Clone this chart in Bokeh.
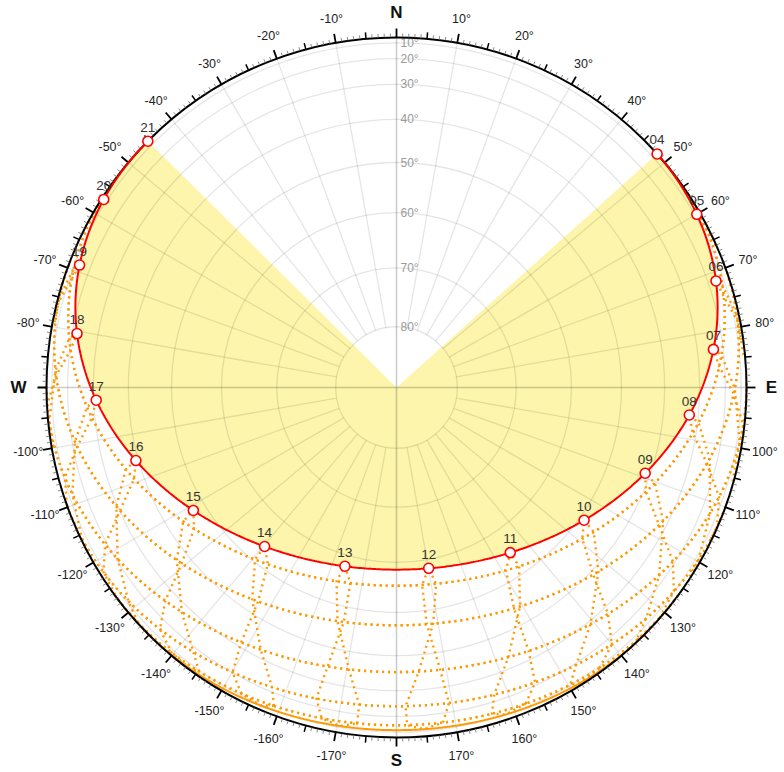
import numpy as np
from bokeh.plotting import figure
from bokeh.models import Range1d, ColumnDataSource
from bokeh.core.properties import value
from bokeh.embed import file_html
from bokeh.resources import INLINE

# ---- site and dates -------------------------------------------------------
LATITUDE = 54.8            # degrees north
CLOCK_OFFSET_MIN = -21.4   # local clock vs. mean solar time, minutes

MONTHS = ["Jan", "Feb", "Mar", "Apr", "May", "Jun",
          "Jul", "Aug", "Sep", "Oct", "Nov", "Dec"]
# solar declination and equation of time on the 21st of each month
DECLINATION = [-20.0, -10.8, 0.4, 12.0, 20.3, 23.44,
               20.3, 12.0, 0.4, -10.8, -20.0, -23.44]
EQ_OF_TIME = [-11.1, -13.7, -7.3, 1.1, 3.5, -1.6,
              -6.3, -3.2, 6.8, 15.3, 14.0, 1.9]

HIGHLIGHT = "Jun"          # red path with hourly markers
SOLID_ORANGE = "Dec"       # drawn solid, the rest dotted
HOURS = list(range(4, 22))
ANALEMMA_HOURS = list(range(0, 24))

ALT_RINGS = [10, 20, 30, 40, 50, 60, 70, 80]
AZ_LABELS = [a for a in range(-170, 180, 10) if a not in (0, 90, -90)]
CARDINALS = ["N", "E", "S", "W"]
CARDINAL_AZ = [0, 90, 180, -90]

# ---- geometry ---------------------------------------------------------------
R = 350.0
FONT = value("Liberation Sans")
ORANGE = "#ff9900"


def sun_position(clock_h, decl, eot):
    solar = np.asarray(clock_h, dtype=float) + (CLOCK_OFFSET_MIN + eot) / 60.0
    H = np.radians(15.0 * (solar - 12.0))
    lat = np.radians(LATITUDE)
    d = np.radians(decl)
    sin_alt = np.sin(lat) * np.sin(d) + np.cos(lat) * np.cos(d) * np.cos(H)
    alt = np.degrees(np.arcsin(np.clip(sin_alt, -1, 1)))
    east = -np.cos(d) * np.sin(H)
    north = np.sin(d) * np.cos(lat) - np.cos(d) * np.sin(lat) * np.cos(H)
    az = np.degrees(np.arctan2(east, north))
    return az, alt


def project(az, alt):
    r = R * np.cos(np.radians(alt))
    a = np.radians(az)
    return r * np.sin(a), r * np.cos(a)


def runs_above_horizon(x, y, alt):
    """Split a polyline into pieces above the horizon, cut at the horizon."""
    xs_out, ys_out = [], []
    cur_x, cur_y = [], []
    for i in range(len(alt)):
        if alt[i] >= 0:
            if not cur_x and i > 0 and alt[i - 1] < 0:
                f = alt[i - 1] / (alt[i - 1] - alt[i])
                cur_x.append(x[i - 1] + f * (x[i] - x[i - 1]))
                cur_y.append(y[i - 1] + f * (y[i] - y[i - 1]))
            cur_x.append(x[i])
            cur_y.append(y[i])
        else:
            if cur_x:
                f = alt[i - 1] / (alt[i - 1] - alt[i])
                cur_x.append(x[i - 1] + f * (x[i] - x[i - 1]))
                cur_y.append(y[i - 1] + f * (y[i] - y[i - 1]))
                xs_out.append(cur_x)
                ys_out.append(cur_y)
                cur_x, cur_y = [], []
    if len(cur_x) > 1:
        xs_out.append(cur_x)
        ys_out.append(cur_y)
    return xs_out, ys_out


p = figure(width=784, height=772, output_backend="svg", toolbar_location=None,
           x_range=Range1d(-396, 388), y_range=Range1d(-385, 387),
           x_axis_type=None, y_axis_type=None, min_border=0,
           outline_line_color=None, background_fill_color="white")
p.grid.visible = False

# ---- highlighted path and its area -----------------------------------------
hi = MONTHS.index(HIGHLIGHT)
t_hi = np.linspace(HOURS[0], HOURS[-1], 600)
az_hi, alt_hi = sun_position(t_hi, DECLINATION[hi], EQ_OF_TIME[hi])
hx, hy = project(az_hi, alt_hi)
p.patch(np.concatenate([[0.0], hx, [0.0]]), np.concatenate([[0.0], hy, [0.0]]),
        fill_color="#fcf4a6", fill_alpha=0.95, line_color=None)

# ---- polar grid ---------------------------------------------------------------
ring_r = [R * np.cos(np.radians(a)) for a in ALT_RINGS]
p.circle(x=[0] * len(ring_r), y=[0] * len(ring_r), radius=ring_r,
         fill_color=None, line_color="black", line_alpha=0.1, line_width=1.3)

gx, gy = [], []
for a in range(0, 360, 10):
    if a % 90 == 0:
        continue
    r0 = ring_r[-1]
    ang = np.radians(a)
    gx.append([r0 * np.sin(ang), R * np.sin(ang)])
    gy.append([r0 * np.cos(ang), R * np.cos(ang)])
p.multi_line(gx, gy, line_color="black", line_alpha=0.1, line_width=1.3)

cx, cy = [], []
for a in (0, 90, 180, 270):
    ang = np.radians(a)
    cx.append([0, R * np.sin(ang)])
    cy.append([0, R * np.cos(ang)])
p.multi_line(cx, cy, line_color="black", line_alpha=0.2, line_width=1.6)

p.text(x=[4] * len(ALT_RINGS), y=ring_r, text=[f"{a}°" for a in ALT_RINGS],
       text_font=FONT, text_font_size="12px", text_color="#9a9a9a",
       text_align="left", text_baseline="middle")

# ---- monthly paths ----------------------------------------------------------
t_day = np.linspace(0, 24, 1441)
dot_x, dot_y = [], []
for m, name in enumerate(MONTHS):
    if name == HIGHLIGHT:
        continue
    az, alt = sun_position(t_day, DECLINATION[m], EQ_OF_TIME[m])
    x, y = project(az, alt)
    xs, ys = runs_above_horizon(x, y, alt)
    if name == SOLID_ORANGE:
        p.multi_line(xs, ys, line_color=ORANGE, line_width=2)
    else:
        dot_x += xs
        dot_y += ys

# ---- hour analemmas (21st of each month, joined) ---------------------------
for h in ANALEMMA_HOURS:
    pts = [sun_position(h, DECLINATION[m], EQ_OF_TIME[m]) for m in range(12)]
    pts.append(pts[0])
    az = np.array([q[0] for q in pts], dtype=float)
    alt = np.array([q[1] for q in pts], dtype=float)
    x, y = project(az, alt)
    xs, ys = runs_above_horizon(x, y, alt)
    dot_x += xs
    dot_y += ys

p.multi_line(dot_x, dot_y, line_color=ORANGE, line_width=2.4, line_dash="2 4")

# ---- horizon circle and azimuth ticks --------------------------------------
p.circle(x=[0], y=[0], radius=[R], fill_color=None, line_color="black", line_width=2)

tick_sets = {"major": ([], [], "#000000", 1.8, 9),
             "mid": ([], [], "#000000", 1.5, 6.5),
             "minor": ([], [], "#8a8a8a", 1.0, 4)}
for d in range(360):
    kind = "major" if d % 10 == 0 else ("mid" if d % 5 == 0 else "minor")
    xs, ys, _, _, ln = tick_sets[kind]
    ang = np.radians(d)
    xs.append([(R + 0.5) * np.sin(ang), (R + ln) * np.sin(ang)])
    ys.append([(R + 0.5) * np.cos(ang), (R + ln) * np.cos(ang)])
for xs, ys, col, w, _ in tick_sets.values():
    p.multi_line(xs, ys, line_color=col, line_width=w)

lab_r = 374.0
lx = [lab_r * np.sin(np.radians(a)) for a in AZ_LABELS]
ly = [lab_r * np.cos(np.radians(a)) for a in AZ_LABELS]
p.text(x=lx, y=ly, text=[f"{a}°" for a in AZ_LABELS], text_font=FONT,
       text_font_size="12.5px", text_color="#222222",
       text_align="center", text_baseline="middle")

# cardinal letters sit a little further out at the sides than at the poles
card_r = [375.0, 375.0, 373.0, 378.0]
p.text(x=[r * np.sin(np.radians(a)) for r, a in zip(card_r, CARDINAL_AZ)],
       y=[r * np.cos(np.radians(a)) for r, a in zip(card_r, CARDINAL_AZ)],
       text=CARDINALS, text_font=FONT, text_font_size="17px",
       text_font_style="bold", text_color="#111111",
       text_align="center", text_baseline="middle")

# ---- highlighted path, hourly markers and labels ---------------------------
p.line(hx, hy, line_color="#ff0000", line_width=2)

az_h, alt_h = sun_position(np.array(HOURS, dtype=float), DECLINATION[hi], EQ_OF_TIME[hi])
px, py = project(az_h, alt_h)
src = ColumnDataSource(dict(x=px, y=py, ly=py + 14, label=[f"{h:02d}" for h in HOURS]))
p.scatter("x", "y", source=src, size=10, fill_color="white",
          line_color="#ff0000", line_width=1.6)
p.text("x", "ly", text="label", source=src, text_font=FONT,
       text_font_size="13.5px", text_color="#333333",
       text_align="center", text_baseline="middle")

open("out.html", "w").write(file_html(p, INLINE))
